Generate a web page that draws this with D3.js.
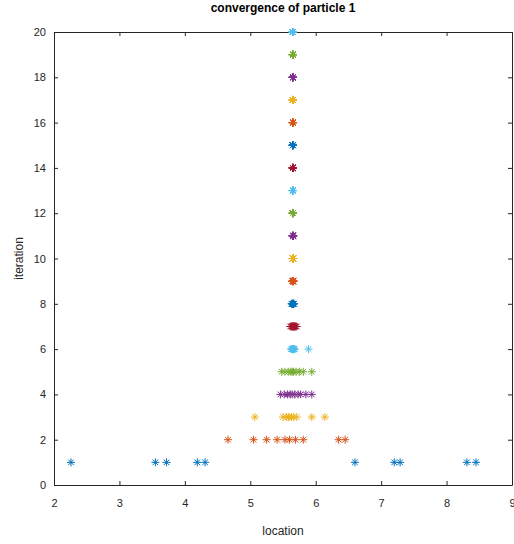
<!DOCTYPE html>
<html>
<head>
<meta charset="utf-8">
<script src="https://cdn.jsdelivr.net/npm/d3@7"></script>
<style>
  html, body { margin: 0; padding: 0; background: #fff; }
  svg { display: block; font-family: "Liberation Sans", Arial, sans-serif; }
  .tick text { fill: #262626; font-size: 11px; }
  .tick line { stroke: #262626; }
  .domain { stroke: #262626; }
</style>
</head>
<body>
<svg id="chart" width="514" height="544"></svg>
<script>
const svg = d3.select("#chart");

const margin = { top: 32, right: 2, bottom: 59, left: 54 };
const width = 514, height = 544;

// MATLAB default colour order, cycled per iteration
const palette = ["#0072BD", "#D95319", "#EDB120", "#7E2F8E", "#77AC30", "#4DBEEE", "#A2142F"];

const xTicks = [2, 3, 4, 5, 6, 7, 8, 9];
const yTicks = [0, 2, 4, 6, 8, 10, 12, 14, 16, 18, 20];

const iterations = [1, 2, 3, 4, 5, 6, 7, 8, 9, 10, 11, 12, 13, 14, 15, 16, 17, 18, 19, 20];

// location of each of the 10 particles, one row per iteration
const iter1 = [2.26, 3.55, 3.72, 4.19, 4.31, 6.60, 7.20, 7.29, 8.31, 8.45];
const iter2 = [4.66, 5.05, 5.25, 5.41, 5.53, 5.60, 5.69, 5.81, 6.35, 6.45];
const iter3 = [5.07, 5.50, 5.55, 5.59, 5.63, 5.66, 5.71, 5.94, 6.14, 5.58];
const iter4 = [5.46, 5.52, 5.57, 5.61, 5.64, 5.68, 5.73, 5.77, 5.85, 5.94];
const iter5 = [5.48, 5.53, 5.58, 5.62, 5.66, 5.70, 5.75, 5.81, 5.94, 5.64];
const iter6 = [5.62, 5.64, 5.65, 5.66, 5.67, 5.68, 5.66, 5.65, 5.89, 5.64];
const iter7 = [5.61, 5.63, 5.65, 5.66, 5.67, 5.69, 5.71, 5.64, 5.66, 5.68];
const iter8 = [5.63, 5.64, 5.65, 5.66, 5.67, 5.65, 5.66, 5.64, 5.65, 5.66];
const iter9 = [5.64, 5.65, 5.66, 5.65, 5.66, 5.65, 5.64, 5.66, 5.65, 5.66];
const iter10 = [5.65, 5.65, 5.66, 5.65, 5.65, 5.66, 5.65, 5.65, 5.66, 5.65];
const iter11 = [5.65, 5.65, 5.65, 5.66, 5.65, 5.65, 5.65, 5.66, 5.65, 5.65];
const iter12 = [5.65, 5.65, 5.65, 5.65, 5.65, 5.65, 5.65, 5.65, 5.65, 5.65];
const iter13 = [5.65, 5.65, 5.65, 5.65, 5.65, 5.65, 5.65, 5.65, 5.65, 5.65];
const iter14 = [5.65, 5.65, 5.65, 5.65, 5.65, 5.65, 5.65, 5.65, 5.65, 5.65];
const iter15 = [5.65, 5.65, 5.65, 5.65, 5.65, 5.65, 5.65, 5.65, 5.65, 5.65];
const iter16 = [5.65, 5.65, 5.65, 5.65, 5.65, 5.65, 5.65, 5.65, 5.65, 5.65];
const iter17 = [5.65, 5.65, 5.65, 5.65, 5.65, 5.65, 5.65, 5.65, 5.65, 5.65];
const iter18 = [5.65, 5.65, 5.65, 5.65, 5.65, 5.65, 5.65, 5.65, 5.65, 5.65];
const iter19 = [5.65, 5.65, 5.65, 5.65, 5.65, 5.65, 5.65, 5.65, 5.65, 5.65];
const iter20 = [5.65, 5.65, 5.65, 5.65, 5.65, 5.65, 5.65, 5.65, 5.65, 5.65];

const locations = [iter1, iter2, iter3, iter4, iter5, iter6, iter7, iter8, iter9, iter10,
  iter11, iter12, iter13, iter14, iter15, iter16, iter17, iter18, iter19, iter20];

const points = [];
iterations.forEach((it, i) => {
  locations[i].forEach((loc) => points.push({ iter: it, loc, color: palette[i % palette.length] }));
});

const x = d3.scaleLinear().domain([2, 9]).range([margin.left, width - margin.right]);
const y = d3.scaleLinear().domain([0, 20]).range([height - margin.bottom, margin.top]);

const plotH = height - margin.bottom - margin.top;
const plotW = width - margin.right - margin.left;

// MATLAB box: ticks inward on all four sides
svg.append("g")
  .attr("transform", `translate(0,${height - margin.bottom})`)
  .call(d3.axisBottom(x).tickValues(xTicks).tickFormat(d3.format("d")).tickSizeInner(-4).tickSizeOuter(0).tickPadding(12))
  .call((g) => g.selectAll("text").attr("dy", "0.9em"));
svg.append("g")
  .attr("transform", `translate(0,${margin.top})`)
  .call(d3.axisTop(x).tickValues(xTicks).tickSizeInner(-4).tickSizeOuter(0).tickFormat(""));
svg.append("g")
  .attr("transform", `translate(${margin.left},0)`)
  .call(d3.axisLeft(y).tickValues(yTicks).tickFormat(d3.format("d")).tickSizeInner(-4).tickSizeOuter(0).tickPadding(8));
svg.append("g")
  .attr("transform", `translate(${width - margin.right},0)`)
  .call(d3.axisRight(y).tickValues(yTicks).tickSizeInner(-4).tickSizeOuter(0).tickFormat(""));

// asterisk markers
const r = 4;
const star = `M0,${-r}V${r}M${-r},0H${r}M${-r * 0.7},${-r * 0.7}L${r * 0.7},${r * 0.7}M${-r * 0.7},${r * 0.7}L${r * 0.7},${-r * 0.7}`;

svg.append("g")
  .selectAll("path.mark")
  .data(points)
  .join("path")
  .attr("class", "mark")
  .attr("transform", (d) => `translate(${x(d.loc)},${y(d.iter)})`)
  .attr("d", star)
  .attr("fill", "none")
  .attr("stroke", (d) => d.color)
  .attr("stroke-width", 1);

svg.append("text")
  .attr("x", margin.left + plotW / 2)
  .attr("y", margin.top - 20)
  .attr("text-anchor", "middle")
  .attr("font-size", 12)
  .attr("font-weight", "bold")
  .attr("fill", "#000")
  .text("convergence of particle 1");

svg.append("text")
  .attr("x", margin.left + plotW / 2)
  .attr("y", height - 9)
  .attr("text-anchor", "middle")
  .attr("font-size", 12)
  .attr("fill", "#262626")
  .text("location");

svg.append("text")
  .attr("transform", `translate(23,${margin.top + plotH / 2}) rotate(-90)`)
  .attr("text-anchor", "middle")
  .attr("font-size", 12)
  .attr("fill", "#262626")
  .text("iteration");
</script>
</body>
</html>
